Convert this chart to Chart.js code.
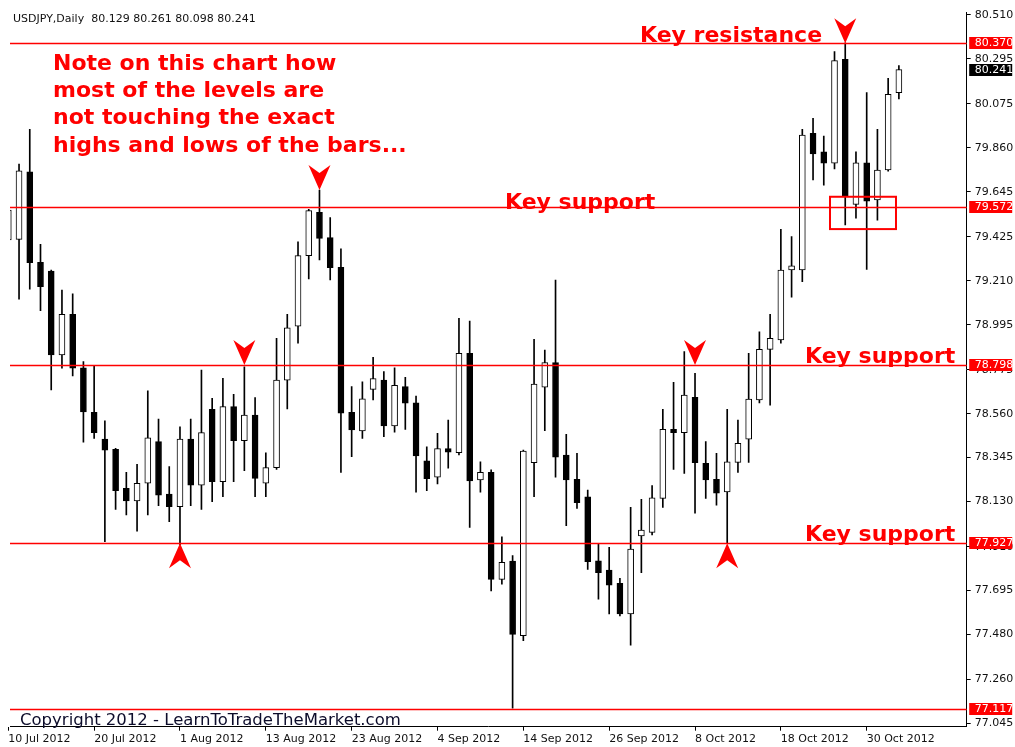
<!DOCTYPE html>
<html>
<head>
<meta charset="utf-8">
<script src="https://cdn.jsdelivr.net/npm/chart.js@4.4.0/dist/chart.umd.min.js"></script>
<style>
  html, body { margin: 0; padding: 0; background: #fff; }
</style>
</head>
<body>
<canvas id="chart" width="1015" height="747"></canvas>
<script>
// USDJPY daily candles, 10 Jul 2012 .. 2 Nov 2012
const opens = [
  79.409, 79.412, 79.742, 79.300, 79.257, 78.847, 79.045, 78.784, 78.567, 78.436,
  78.386, 78.195, 78.133, 78.220, 78.423, 78.167, 78.105, 78.436, 78.211, 78.581,
  78.227, 78.594, 78.428, 78.553, 78.220, 78.296, 78.724, 78.988, 79.332, 79.544,
  79.420, 79.275, 78.567, 78.475, 78.679, 78.724, 78.500, 78.692, 78.613, 78.330,
  78.250, 78.389, 78.369, 78.855, 78.236, 78.273, 77.750, 77.840, 77.475, 78.320,
  78.689, 78.809, 78.358, 78.239, 78.154, 77.841, 77.796, 77.731, 77.581, 77.962,
  77.980, 78.146, 78.483, 78.467, 78.640, 78.317, 78.239, 78.177, 78.322, 78.435,
  78.627, 78.874, 78.920, 79.262, 79.262, 79.930, 79.840, 79.784, 80.292, 79.583,
  79.786, 79.604, 79.751, 80.129
];
const highs = [
  79.580, 79.780, 79.950, 79.388, 79.262, 79.164, 79.145, 78.814, 78.794, 78.525,
  78.390, 78.273, 78.312, 78.671, 78.534, 78.301, 78.496, 78.534, 78.773, 78.635,
  78.733, 78.654, 78.789, 78.638, 78.369, 78.928, 79.045, 79.400, 79.559, 79.653,
  79.518, 79.366, 78.692, 78.716, 78.835, 78.765, 78.784, 78.738, 78.646, 78.398,
  78.464, 78.529, 79.026, 79.013, 78.325, 78.285, 77.958, 77.866, 78.382, 78.923,
  78.871, 79.213, 78.459, 78.366, 78.187, 77.921, 77.907, 77.755, 78.102, 78.141,
  78.208, 78.581, 78.713, 78.863, 78.757, 78.423, 78.366, 78.581, 78.529, 78.855,
  78.960, 79.045, 79.461, 79.425, 79.950, 80.003, 79.917, 80.329, 80.372, 79.840,
  80.129, 79.950, 80.199, 80.261
];
const lows = [
  79.384, 79.119, 79.168, 79.063, 78.676, 78.782, 78.744, 78.420, 78.439, 77.934,
  78.092, 78.065, 77.986, 78.065, 78.110, 78.032, 77.920, 78.110, 78.092, 78.130,
  78.154, 78.227, 78.281, 78.154, 78.154, 78.288, 78.583, 78.904, 79.218, 79.311,
  79.213, 78.273, 78.350, 78.439, 78.627, 78.447, 78.470, 78.483, 78.176, 78.183,
  78.216, 78.294, 78.358, 78.004, 78.176, 77.693, 77.726, 77.120, 77.450, 78.154,
  78.477, 78.249, 78.012, 78.097, 77.799, 77.653, 77.581, 77.572, 77.429, 77.783,
  77.967, 78.102, 78.288, 78.268, 78.073, 78.146, 78.113, 77.930, 78.273, 78.322,
  78.613, 78.602, 78.904, 79.129, 79.205, 79.702, 79.677, 79.756, 79.482, 79.515,
  79.265, 79.506, 79.745, 80.098
];
const closes = [
  79.555, 79.747, 79.298, 79.180, 78.847, 79.045, 78.782, 78.569, 78.467, 78.382,
  78.183, 78.133, 78.220, 78.442, 78.162, 78.105, 78.436, 78.211, 78.467, 78.227,
  78.594, 78.428, 78.553, 78.244, 78.296, 78.724, 78.980, 79.332, 79.552, 79.417,
  79.273, 78.562, 78.480, 78.633, 78.731, 78.500, 78.698, 78.611, 78.353, 78.242,
  78.389, 78.372, 78.855, 78.231, 78.273, 77.750, 77.833, 77.481, 78.377, 78.705,
  78.809, 78.347, 78.236, 78.125, 77.836, 77.783, 77.722, 77.581, 77.898, 77.991,
  78.148, 78.483, 78.467, 78.651, 78.320, 78.236, 78.171, 78.324, 78.415, 78.631,
  78.874, 78.928, 79.262, 79.282, 79.922, 79.829, 79.784, 80.285, 79.624, 79.786,
  79.599, 79.751, 80.121, 80.241
];

const dateLabels = ["10 Jul 2012", "20 Jul 2012", "1 Aug 2012", "13 Aug 2012", "23 Aug 2012",
  "4 Sep 2012", "14 Sep 2012", "26 Sep 2012", "8 Oct 2012", "18 Oct 2012", "30 Oct 2012"];
const dateIdx = [0, 8, 16, 24, 32, 40, 48, 56, 64, 72, 80];

const priceTicks = [80.510, 80.295, 80.075, 79.860, 79.645, 79.425, 79.210, 78.995, 78.775,
  78.560, 78.345, 78.130, 77.910, 77.695, 77.480, 77.260, 77.045];

const levels = [80.370, 79.572, 78.798, 77.927, 77.117];
const lastPrice = 80.241;

// arrows: [candle index, price at tip]
const downArrows = [[29, 79.653], [22, 78.798], [64, 78.798], [78, 80.370]];
const upArrows = [[16, 77.927], [67, 77.927]];
// highlighted area: [x from, x to, price top, price bottom]
const boxArea = [76.58, 82.73, 79.620, 79.462];

const noteLines = ["Note on this chart how", "most of the levels are",
  "not touching the exact", "highs and lows of the bars..."];

const wicks = opens.map((o, i) => ({ x: i, y: [lows[i], highs[i]] }));
const bodies = opens.map((o, i) => ({ x: i, y: [o, closes[i]] }));

const RED = "#ff0000";
const FONT = "'DejaVu Sans', Verdana, sans-serif";

function arrow(ctx, x, y, dir) {
  // dir 1 = pointing down (tip at bottom), -1 = pointing up
  const w = 11, h = 25, notch = 8;
  ctx.beginPath();
  ctx.moveTo(x, y);
  ctx.lineTo(x - w, y - dir * h);
  ctx.lineTo(x, y - dir * (h - notch));
  ctx.lineTo(x + w, y - dir * h);
  ctx.closePath();
  ctx.fill();
}

const annotations = {
  id: "annotations",
  afterDraw(chart) {
    const ctx = chart.ctx;
    const xs = chart.scales.x, ys = chart.scales.y;
    const area = chart.chartArea;
    ctx.save();

    // level lines
    ctx.strokeStyle = RED;
    ctx.lineWidth = 1.3;
    levels.forEach(lv => {
      const y = Math.round(ys.getPixelForValue(lv)) + 0.5;
      ctx.beginPath();
      ctx.moveTo(area.left, y);
      ctx.lineTo(area.right, y);
      ctx.stroke();
    });

    // red box round the last bars
    const bx1 = xs.getPixelForValue(boxArea[0]), bx2 = xs.getPixelForValue(boxArea[1]);
    const by1 = ys.getPixelForValue(boxArea[2]), by2 = ys.getPixelForValue(boxArea[3]);
    ctx.lineWidth = 2;
    ctx.strokeRect(bx1, by1, bx2 - bx1, by2 - by1);

    // arrows
    ctx.fillStyle = RED;
    downArrows.forEach(a => arrow(ctx, xs.getPixelForValue(a[0]), ys.getPixelForValue(a[1]), 1));
    upArrows.forEach(a => arrow(ctx, xs.getPixelForValue(a[0]), ys.getPixelForValue(a[1]), -1));

    // price boxes on the axis
    ctx.font = "11px " + FONT;
    ctx.textBaseline = "middle";
    ctx.textAlign = "left";
    const boxItems = levels.map(v => [v, RED]).concat([[lastPrice, "#000"]]);
    boxItems.forEach(([v, col]) => {
      const y = ys.getPixelForValue(v);
      ctx.fillStyle = col;
      ctx.fillRect(area.right + 2.5, Math.round(y) - 6, 43, 12);
      ctx.fillStyle = "#fff";
      ctx.fillText(v.toFixed(3), area.right + 8, Math.round(y) + 0.5);
    });

    // texts
    ctx.textBaseline = "alphabetic";
    ctx.fillStyle = "#111";
    ctx.font = "11px " + FONT;
    ctx.fillText("USDJPY,Daily  " + [opens[83], highs[83], lows[83], closes[83]].map(v => v.toFixed(3)).join(" "), 13, 22);

    ctx.fillStyle = RED;
    ctx.font = "bold 22px " + FONT;
    noteLines.forEach((t, i) => ctx.fillText(t, 53, 70 + i * 27.2));
    ctx.fillText("Key resistance", 640, 41.5);
    ctx.fillText("Key support", 505, 208.5);
    ctx.fillText("Key support", 805, 362.5);
    ctx.fillText("Key support", 805, 541);

    ctx.fillStyle = "#0c0c2a";
    ctx.font = "16.5px " + FONT;
    ctx.fillText("Copyright 2012 - LearnToTradeTheMarket.com", 20, 725);
    ctx.restore();
  }
};

new Chart(document.getElementById("chart"), {
  type: "bar",
  data: {
    datasets: [
      {
        data: bodies,
        barThickness: 6,
        grouped: false,
        clip: 0,
        order: 0,
        borderColor: "#000",
        borderWidth: 1,
        borderSkipped: false,
        backgroundColor: (c) => closes[c.dataIndex] >= opens[c.dataIndex] ? "#fff" : "#000",
      },
      {
        data: wicks,
        barThickness: 1,
        grouped: false,
        clip: 0,
        order: 1,
        borderWidth: 0,
        backgroundColor: "#000",
      },
    ],
  },
  options: {
    responsive: false,
    animation: false,
    devicePixelRatio: 1,
    layout: { padding: { left: 10, top: 12, right: 0, bottom: 0 } },
    plugins: {
      legend: { display: false },
      tooltip: { enabled: false },
      title: { display: false },
    },
    scales: {
      x: {
        type: "linear",
        position: "bottom",
        offset: false,
        min: 0.158,
        max: 89.32,
        grid: { offset: false, drawOnChartArea: false, drawTicks: true, tickLength: 4, color: "#000" },
        border: { display: true, color: "#000", width: 1 },
        ticks: {
          autoSkip: false,
          maxRotation: 0,
          align: "start",
          padding: 2,
          color: "#111",
          font: { family: FONT, size: 11 },
          callback: (v) => dateLabels[dateIdx.indexOf(v)],
        },
        afterBuildTicks: (s) => { s.ticks = dateIdx.map(v => ({ value: v })); },
        afterFit: (s) => { s.height = 20.3; s.paddingLeft = 0; s.paddingRight = 0; },
      },
      y: {
        type: "linear",
        position: "right",
        min: 77.030,
        max: 80.523,
        grid: { drawOnChartArea: false, drawTicks: true, tickLength: 4, color: "#000" },
        border: { display: true, color: "#000", width: 1 },
        ticks: {
          padding: 4,
          color: "#111",
          font: { family: FONT, size: 11 },
          callback: (v) => Number(v).toFixed(3),
        },
        afterBuildTicks: (s) => { s.ticks = priceTicks.map(v => ({ value: v })); },
        afterFit: (s) => { s.width = 48.3; s.paddingTop = 0; s.paddingBottom = 0; },
      },
    },
  },
  plugins: [annotations],
});
</script>
</body>
</html>
